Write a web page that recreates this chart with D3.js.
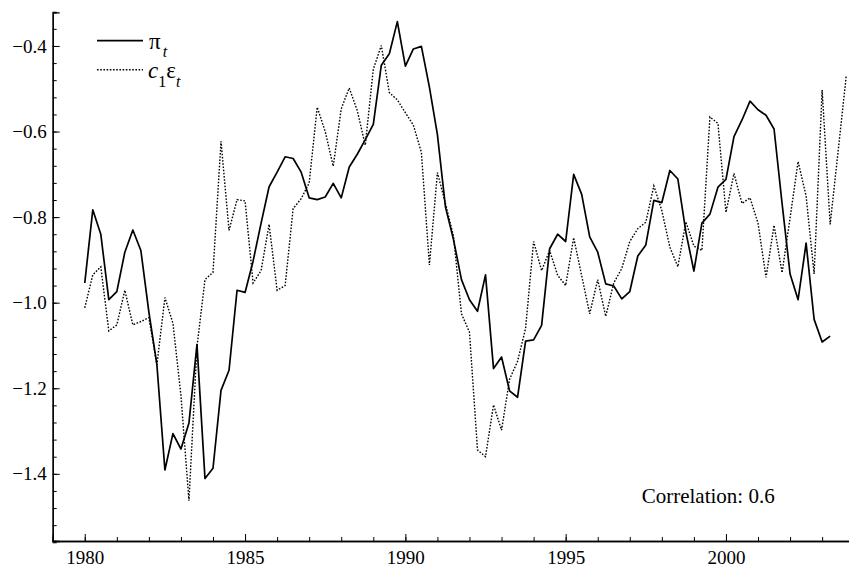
<!DOCTYPE html>
<html>
<head>
<meta charset="utf-8">
<script src="https://cdn.jsdelivr.net/npm/d3@7"></script>
<style>
  html, body { margin: 0; padding: 0; background: #fff; }
  svg text { font-family: "Liberation Serif", "Times New Roman", "DejaVu Serif", serif; fill: #000; }
</style>
</head>
<body>
<svg id="chart" width="849" height="569"></svg>
<script>
// ---- data (quarterly, starting 1980Q1) ----
const startYear = 1980;
const quartersPerYear = 4;

const piSeries = [
  -0.954,-0.783,-0.840,-0.993,-0.974,-0.882,-0.830,-0.878,-1.022,-1.145,
  -1.391,-1.306,-1.342,-1.281,-1.098,-1.411,-1.387,-1.205,-1.158,-0.971,
  -0.976,-0.903,-0.814,-0.729,-0.695,-0.659,-0.663,-0.695,-0.755,-0.759,
  -0.753,-0.721,-0.755,-0.683,-0.653,-0.619,-0.583,-0.445,-0.418,-0.343,
  -0.447,-0.407,-0.401,-0.496,-0.607,-0.776,-0.852,-0.946,-0.993,-1.020,
  -0.935,-1.154,-1.127,-1.206,-1.221,-1.090,-1.087,-1.053,-0.874,-0.840,
  -0.857,-0.700,-0.747,-0.846,-0.882,-0.956,-0.961,-0.991,-0.974,-0.891,
  -0.865,-0.761,-0.766,-0.691,-0.711,-0.835,-0.926,-0.814,-0.793,-0.730,
  -0.712,-0.612,-0.573,-0.529,-0.549,-0.562,-0.594,-0.768,-0.933,-0.993,
  -0.861,-1.039,-1.092,-1.078
];

const epsSeries = [
  -1.012,-0.935,-0.916,-1.066,-1.052,-0.971,-1.052,-1.044,-1.035,-1.145,
  -0.988,-1.048,-1.217,-1.463,-1.103,-0.946,-0.929,-0.623,-0.831,-0.759,
  -0.762,-0.954,-0.925,-0.817,-0.971,-0.960,-0.780,-0.757,-0.720,-0.543,
  -0.600,-0.681,-0.547,-0.498,-0.551,-0.632,-0.454,-0.399,-0.509,-0.526,
  -0.556,-0.585,-0.649,-0.912,-0.696,-0.768,-0.844,-1.026,-1.069,-1.344,
  -1.360,-1.239,-1.298,-1.179,-1.137,-1.060,-0.857,-0.925,-0.878,-0.936,
  -0.960,-0.848,-0.937,-1.026,-0.946,-1.032,-0.954,-0.920,-0.857,-0.827,
  -0.812,-0.727,-0.785,-0.870,-0.916,-0.811,-0.868,-0.878,-0.566,-0.581,
  -0.789,-0.698,-0.768,-0.755,-0.814,-0.941,-0.819,-0.930,-0.802,-0.670,
  -0.751,-0.933,-0.503,-0.817,-0.645,-0.471
];

const xMajorTicks = [1980, 1985, 1990, 1995, 2000];
const xMinorTicks = [1980,1981,1982,1983,1984,1985,1986,1987,1988,1989,1990,1991,
                     1992,1993,1994,1995,1996,1997,1998,1999,2000,2001,2002,2003];
const yMajorTicks = [-1.4, -1.2, -1.0, -0.8, -0.6, -0.4];
const yTickLabels = ["\u22121.4", "\u22121.2", "\u22121.0", "\u22120.8", "\u22120.6", "\u22120.4"];
const yMinorTicks = [-1.56,-1.52,-1.48,-1.44,-1.40,-1.36,-1.32,-1.28,-1.24,-1.20,-1.16,-1.12,
                     -1.08,-1.04,-1.00,-0.96,-0.92,-0.88,-0.84,-0.80,-0.76,-0.72,-0.68,-0.64,
                     -0.60,-0.56,-0.52,-0.48,-0.44,-0.40,-0.36,-0.32];
const correlationText = "Correlation: 0.6";

// ---- layout ----
const svg = d3.select("#chart");
const x = d3.scaleLinear().domain([1979, 2004]).range([52.7, 854.2]);
const y = d3.scaleLinear().domain([-1.557, -0.3213]).range([541, 12.3]);

const toPoints = arr => arr.map((v, i) => ({ t: startYear + i / quartersPerYear, v }));
const line = d3.line().x(d => x(d.t)).y(d => y(d.v));

const serif = "Liberation Serif, Times New Roman, serif";

// axes: x
const xAxisMinor = d3.axisBottom(x).tickValues(xMinorTicks).tickSize(-4).tickFormat("");
const xAxisMajor = d3.axisBottom(x).tickValues(xMajorTicks).tickSize(-7).tickPadding(10)
  .tickFormat(d3.format("d"));
const gx1 = svg.append("g").attr("transform", "translate(0,541)").call(xAxisMinor);
const gx2 = svg.append("g").attr("transform", "translate(0,541)").call(xAxisMajor);
[gx1, gx2].forEach(g => {
  g.attr("font-family", serif);
  g.select(".domain").attr("stroke", "#000").attr("stroke-width", 1.3);
  g.selectAll(".tick line").attr("stroke", "#000").attr("stroke-width", 1);
});
gx2.selectAll(".tick text").attr("font-size", 19);

// axes: y
const yAxisMinor = d3.axisLeft(y).tickValues(yMinorTicks).tickSize(-4).tickFormat("");
const yAxisMajor = d3.axisLeft(y).tickValues(yMajorTicks).tickSize(-7).tickPadding(6)
  .tickFormat((d, i) => yTickLabels[i]);
const gy1 = svg.append("g").attr("transform", "translate(52.7,0)").call(yAxisMinor);
const gy2 = svg.append("g").attr("transform", "translate(52.7,0)").call(yAxisMajor);
[gy1, gy2].forEach(g => {
  g.attr("font-family", serif);
  g.select(".domain").attr("stroke", "#000").attr("stroke-width", 1.3);
  g.selectAll(".tick line").attr("stroke", "#000").attr("stroke-width", 1);
});
gy2.selectAll(".tick text").attr("font-size", 19);

// series
svg.append("path").datum(toPoints(epsSeries)).attr("d", line)
  .attr("fill", "none").attr("stroke", "#000").attr("stroke-width", 1.4)
  .attr("stroke-dasharray", "1.6,1.6");
svg.append("path").datum(toPoints(piSeries)).attr("d", line)
  .attr("fill", "none").attr("stroke", "#000").attr("stroke-width", 1.7)
  .attr("stroke-linejoin", "round");

// legend
const lg = svg.append("g");
lg.append("line").attr("x1", 97).attr("x2", 143).attr("y1", 40.7).attr("y2", 40.7)
  .attr("stroke", "#000").attr("stroke-width", 1.8);
lg.append("line").attr("x1", 97).attr("x2", 143).attr("y1", 69.7).attr("y2", 69.7)
  .attr("stroke", "#000").attr("stroke-width", 1.4).attr("stroke-dasharray", "1.6,1.6");
const t1 = lg.append("text").attr("x", 149).attr("y", 48.5).attr("font-size", 23);
t1.append("tspan").text("\u03C0");
t1.append("tspan").attr("font-size", 16).attr("font-style", "italic").attr("dx", 2).attr("dy", 8.5).text("t");
const t2 = lg.append("text").attr("x", 148).attr("y", 78).attr("font-size", 23);
t2.append("tspan").attr("font-style", "italic").text("c");
t2.append("tspan").attr("font-size", 16).attr("dy", 8.5).text("1");
t2.append("tspan").attr("dy", -8.5).text("\u03B5");
t2.append("tspan").attr("font-size", 16).attr("font-style", "italic").attr("dy", 8.5).text("t");

// correlation annotation
svg.append("text").attr("x", 641.7).attr("y", 503).attr("font-size", 21).text(correlationText);
</script>
</body>
</html>
